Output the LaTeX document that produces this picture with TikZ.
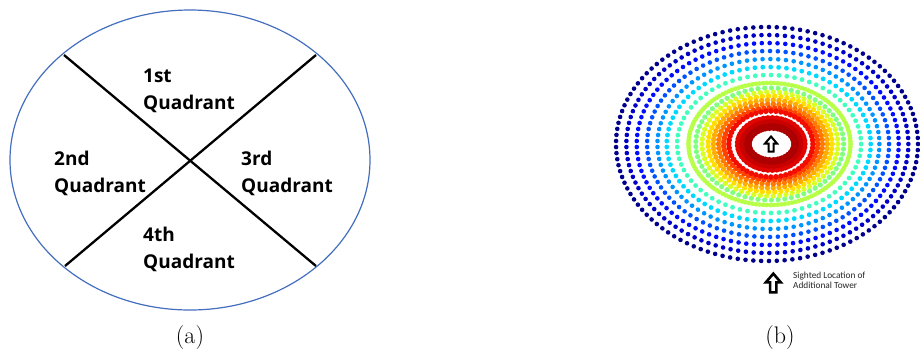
\documentclass[tikz,border=0pt]{standalone}
\usepackage{fontspec}
\newfontfamily\calib{Carlito}
\newfontfamily\quadfont{Open Sans}
\definecolor{ellblue}{RGB}{68,110,190}
\definecolor{r1}{rgb}{0,0,0.55}
\definecolor{r2}{rgb}{0,0,0.78}
\definecolor{r3}{rgb}{0,0.05,1}
\definecolor{r4}{rgb}{0,0.32,1}
\definecolor{r5}{rgb}{0,0.58,1}
\definecolor{r6}{rgb}{0,0.85,1}
\definecolor{r7}{rgb}{0.25,1,0.75}
\definecolor{r8}{rgb}{0.72,1,0.28}
\definecolor{r9}{rgb}{0.5,1,0.5}
\definecolor{r10}{rgb}{0.85,1,0.15}
\definecolor{r11}{rgb}{1,0.87,0}
\definecolor{r12}{rgb}{1,0.68,0}
\definecolor{r13}{rgb}{1,0.48,0}
\definecolor{r14}{rgb}{1,0.26,0}
\definecolor{r15}{rgb}{0.95,0.05,0}
\definecolor{d1}{rgb}{0.88,0.02,0}
\definecolor{d2}{rgb}{0.78,0,0}
\definecolor{d3}{rgb}{0.68,0,0}
\tikzset{
  quadlabel/.style={anchor=base west,align=left,inner sep=0pt,font=\quadfont\bfseries\fontsize{19}{27}\selectfont},
  caplabel/.style={anchor=base,inner sep=0pt,font=\fontsize{24}{28}\selectfont},
  notelabel/.style={anchor=base west,align=left,inner sep=0pt,text=black!85,font=\calib\fontsize{9.3}{10}\selectfont},
  divline/.style={line width=2.3pt,black},
  blockarrow/.pic={\draw[line width=\pgfkeysvalueof{/tikz/arrowlw},fill=white,line join=miter]
      (0,-7.5) -- (6,-0.5) -- (2.5,-0.5) -- (2.5,7.5) -- (-2.5,7.5) -- (-2.5,-0.5) -- (-6,-0.5) -- cycle;},
  arrowlw/.initial=2pt
}
\begin{document}
\begin{tikzpicture}[x=1pt,y=-1pt]
\useasboundingbox (0,0) rectangle (920,349);
\fill[white] (0,0) rectangle (920,349);
% (a) quadrant ellipse
\draw[ellblue,line width=1.2pt] (190,160) ellipse [x radius=180pt, y radius=150pt];
\coordinate (tl) at (64,55);
\coordinate (tr) at (316,55);
\coordinate (bl) at (65,266);
\coordinate (br) at (316,266);
\draw[divline] (tl) -- (br);
\draw[divline] (tr) -- (bl);
\node[quadlabel] (q1) at (143,109) {1st\\Quadrant};
\node[quadlabel] (q2) at (54,192) {2nd\\Quadrant};
\node[quadlabel] (q3) at (241,192) {3rd\\Quadrant};
\node[quadlabel] (q4) at (143,268) {4th\\Quadrant};
\node[caplabel] (capa) at (190,343) {(a)};
% (b) dotted rings
\foreach \rx/\ry/\col/\sp/\dr in {
  151/117/r1/7/2.3, 141/109/r2/7/2.3, 131/101/r3/7/2.3, 121/93/r4/7/2.3,
  111/85/r5/7/2.3, 102/77/r6/7/2.4, 92/69/r7/7/2.4, 81/61/r8/3.2/2.4,
  74/56/r9/6/2.6, 68/52/r10/5.8/2.7, 62/48/r11/5.5/2.7, 57/44/r12/5.2/2.7,
  52/40/r13/5/2.7, 47/36/r14/4.8/2.8, 42/33/r15/4.6/2.8,
  32/24.5/d1/4/4.5, 27.5/20.5/d2/4/4.5, 23.5/17/d3/3.8/4}{
  \pgfmathsetmacro\cx{767+4.5*(151-\rx)/127}
  \pgfmathtruncatemacro\N{round(2*pi*10*sqrt(((\rx/10)^2+(\ry/10)^2)/2)/\sp)}
  \pgfmathsetmacro\st{360/\N}
  \foreach \k in {1,...,\N}{
    \fill[\col] ({\cx+\rx*cos(\k*\st)},{144+\ry*sin(\k*\st)}) circle[radius=\dr pt];
  }
}
\coordinate (tower) at (771,144);
\pic at (tower) {blockarrow};
\coordinate (sighted) at (773.3,283);
\pic[scale=1.25,arrowlw=2.6pt] at (sighted) {blockarrow};
\node[notelabel] (note) at (793,288) {Sighted Location of\\Additional Tower};
\node[caplabel] (capb) at (780,343) {(b)};
\end{tikzpicture}
\end{document}
